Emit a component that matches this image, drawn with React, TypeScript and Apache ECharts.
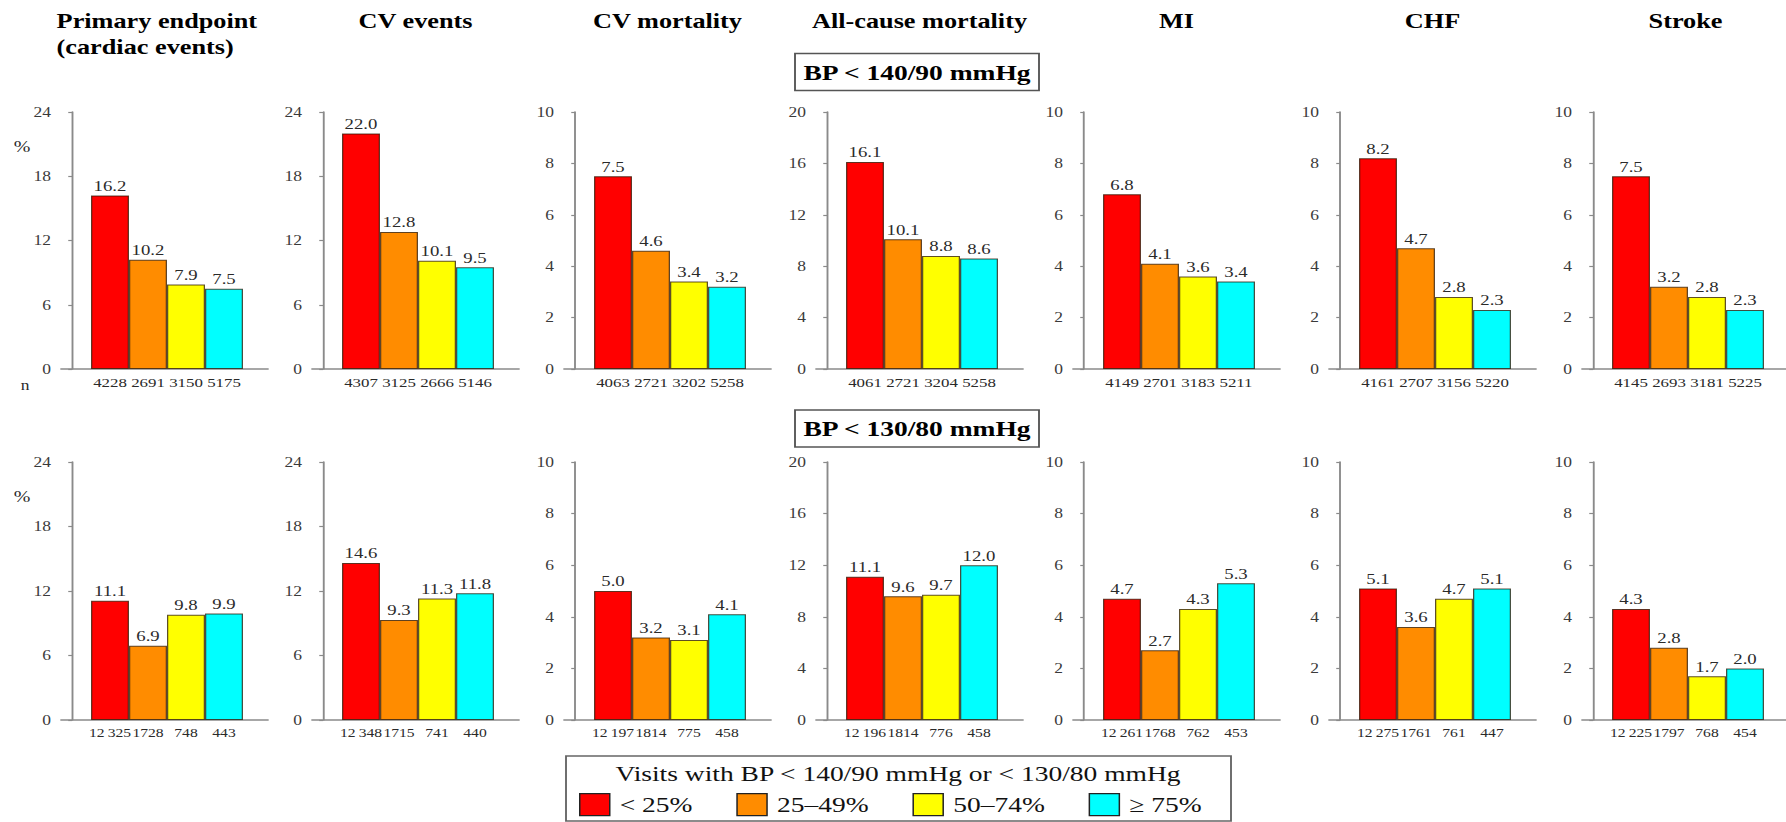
import React, { useEffect, useRef } from 'react';
import * as echarts from 'echarts';

// ---------- data ----------
const groups = ['< 25%', '25–49%', '50–74%', '≥ 75%'];
const groupColors = ['#FF0000', '#FF8C00', '#FFFF00', '#00FFFF'];
const outcomes = [
  'Primary endpoint\n(cardiac events)',
  'CV events',
  'CV mortality',
  'All-cause mortality',
  'MI',
  'CHF',
  'Stroke',
];
const yMax = [24, 24, 10, 20, 10, 10, 10];
const yStep = [6, 6, 2, 4, 2, 2, 2];
const rowTitles = ['BP < 140/90 mmHg', 'BP < 130/80 mmHg'];
const legendTitle = 'Visits with BP < 140/90 mmHg or < 130/80 mmHg';

const bp140Values = [
  [16.2, 10.2, 7.9, 7.5],
  [22.0, 12.8, 10.1, 9.5],
  [7.5, 4.6, 3.4, 3.2],
  [16.1, 10.1, 8.8, 8.6],
  [6.8, 4.1, 3.6, 3.4],
  [8.2, 4.7, 2.8, 2.3],
  [7.5, 3.2, 2.8, 2.3],
];
const bp140N = [
  ['4228', '2691', '3150', '5175'],
  ['4307', '3125', '2666', '5146'],
  ['4063', '2721', '3202', '5258'],
  ['4061', '2721', '3204', '5258'],
  ['4149', '2701', '3183', '5211'],
  ['4161', '2707', '3156', '5220'],
  ['4145', '2693', '3181', '5225'],
];
const bp130Values = [
  [11.1, 6.9, 9.8, 9.9],
  [14.6, 9.3, 11.3, 11.8],
  [5.0, 3.2, 3.1, 4.1],
  [11.1, 9.6, 9.7, 12.0],
  [4.7, 2.7, 4.3, 5.3],
  [5.1, 3.6, 4.7, 5.1],
  [4.3, 2.8, 1.7, 2.0],
];
const bp130N = [
  ['12\u2009325', '1728', '748', '443'],
  ['12\u2009348', '1715', '741', '440'],
  ['12\u2009197', '1814', '775', '458'],
  ['12\u2009196', '1814', '776', '458'],
  ['12\u2009261', '1768', '762', '453'],
  ['12\u2009275', '1761', '761', '447'],
  ['12\u2009225', '1797', '768', '454'],
];

// ---------- layout (the reference figure is stretched horizontally) ----------
const S = 1.25;
const FULL_W = 1786;
const FULL_H = 822;
const INNER_W = FULL_W / S;
const FONT = 'Liberation Serif';
const gridLeftFull = [61, 312, 564, 816, 1073, 1329, 1582];
const gridWFull = 207;
const rowTop = [112, 462];
const rowHeight = [257, 258];
const barWFull = 38;
const barLeadFull = 30;
const xMin = 1 - (barLeadFull + barWFull / 2) / barWFull;
const xMax = xMin + gridWFull / barWFull;
const AXIS_COLOR = '#8a8a8a';
const TEXT_COLOR = '#2a2a2a';

function buildOption() {
  const grids: any[] = [];
  const xAxes: any[] = [];
  const yAxes: any[] = [];
  const series: any[] = [];
  const rows = [
    { values: bp140Values, n: bp140N },
    { values: bp130Values, n: bp130N },
  ];
  rows.forEach((row, r) => {
    outcomes.forEach((_, p) => {
      const idx = r * outcomes.length + p;
      grids.push({
        left: gridLeftFull[p] / S,
        top: rowTop[r],
        width: gridWFull / S,
        height: rowHeight[r],
        containLabel: false,
        outerBoundsMode: 'none',
      });
      const nLabels = row.n[p];
      xAxes.push({
        type: 'value',
        gridIndex: idx,
        min: xMin,
        max: xMax,
        axisLine: { show: true, onZero: false, lineStyle: { color: AXIS_COLOR, width: 1.5 } },
        axisTick: { show: false },
        splitLine: { show: false },
        axisLabel: {
          customValues: [1, 2, 3, 4],
          formatter: (v: number) => nLabels[Math.round(v) - 1] ?? '',
          fontFamily: FONT,
          fontSize: r === 0 ? 13.5 : 12.5,
          color: TEXT_COLOR,
          margin: 6,
        },
      });
      yAxes.push({
        type: 'value',
        gridIndex: idx,
        min: 0,
        max: yMax[p],
        interval: yStep[p],
        axisLine: { show: true, lineStyle: { color: AXIS_COLOR, width: 1.5 } },
        axisTick: { show: true, length: 3, lineStyle: { color: AXIS_COLOR, width: 1.2 } },
        splitLine: { show: false },
        axisLabel: { fontFamily: FONT, fontSize: 14, color: '#3a3a3a', margin: 8 },
      });
      groups.forEach((g, k) => {
        series.push({
          type: 'bar',
          name: g,
          xAxisIndex: idx,
          yAxisIndex: idx,
          data: [[k + 1, row.values[p][k]]],
          barWidth: barWFull / S,
          barGap: '-100%',
          itemStyle: {
            color: groupColors[k],
            borderColor: 'rgba(40,20,0,0.75)',
            borderWidth: 1,
          },
          label: {
            show: true,
            position: 'top',
            distance: 2,
            formatter: (prm: any) => Number(prm.value[1]).toFixed(1),
            fontFamily: FONT,
            fontSize: 15,
            color: TEXT_COLOR,
          },
        });
      });
    });
  });

  const graphic: any[] = [];
  // panel titles
  outcomes.forEach((t, p) => {
    const multi = t.includes('\n');
    graphic.push({
      type: 'text',
      x: multi ? 56.6 / S : (gridLeftFull[p] + gridWFull / 2) / S,
      y: 8,
      style: {
        text: t,
        fontFamily: FONT,
        fontSize: 21,
        fontWeight: 'bold',
        lineHeight: 26,
        fill: '#000',
        align: multi ? 'left' : 'center',
        textAlign: multi ? 'left' : 'center',
        verticalAlign: 'top',
        textVerticalAlign: 'top',
      },
    });
  });
  // row boxes
  const boxY = [53.5, 410];
  rowTitles.forEach((t, r) => {
    graphic.push({
      type: 'rect',
      shape: { x: 795 / S, y: boxY[r], width: (1039 - 795) / S, height: 37 },
      style: { fill: '#fff', stroke: '#555', lineWidth: 1.5 },
    });
    graphic.push({
      type: 'text',
      x: 917 / S,
      y: boxY[r] + 18.5,
      style: {
        text: t,
        fontFamily: FONT,
        fontSize: 22,
        fontWeight: 'bold',
        fill: '#000',
        align: 'center',
        textAlign: 'center',
        verticalAlign: 'middle',
        textVerticalAlign: 'middle',
      },
    });
  });
  // % and n labels
  [146.7, 496.7].forEach((y) => {
    graphic.push({
      type: 'text',
      x: 22 / S,
      y,
      style: {
        text: '%', fontFamily: FONT, fontSize: 16, fill: TEXT_COLOR,
        align: 'center', textAlign: 'center', verticalAlign: 'middle', textVerticalAlign: 'middle',
      },
    });
  });
  graphic.push({
    type: 'text',
    x: 25 / S,
    y: 385,
    style: {
      text: 'n', fontFamily: FONT, fontSize: 14, fill: TEXT_COLOR,
      align: 'center', textAlign: 'center', verticalAlign: 'middle', textVerticalAlign: 'middle',
    },
  });
  // legend box
  graphic.push({
    type: 'rect',
    z: -1,
    shape: { x: 566 / S, y: 756, width: (1231 - 566) / S, height: 65 },
    style: { fill: '#fff', stroke: '#666', lineWidth: 1.5 },
  });
  graphic.push({
    type: 'text',
    x: 898 / S,
    y: 773,
    style: {
      text: legendTitle, fontFamily: FONT, fontSize: 22, fill: '#111',
      align: 'center', textAlign: 'center', verticalAlign: 'middle', textVerticalAlign: 'middle',
    },
  });

  return {
    animation: false,
    backgroundColor: '#fff',
    grid: grids,
    xAxis: xAxes,
    yAxis: yAxes,
    series,
    graphic,
    legend: {
      data: groups,
      left: 579 / S,
      top: 793,
      orient: 'horizontal',
      padding: 0,
      itemWidth: 24,
      itemHeight: 22,
      itemGap: 35,
      icon: 'rect',
      selectedMode: false,
      itemStyle: { borderColor: '#222', borderWidth: 1.2 },
      textStyle: { fontFamily: FONT, fontSize: 22, color: '#111', padding: [0, 0, 0, 3] },
    },
  };
}

export default function App() {
  const ref = useRef<HTMLDivElement>(null);
  useEffect(() => {
    if (!ref.current) return;
    const chart = echarts.init(ref.current, null, { renderer: 'svg' });
    chart.setOption(buildOption() as any);
    return () => chart.dispose();
  }, []);
  return (
    <div
      ref={ref}
      style={{
        position: 'absolute',
        left: 0,
        top: 0,
        width: INNER_W,
        height: FULL_H,
        transform: `scaleX(${S})`,
        transformOrigin: '0 0',
        background: '#fff',
      }}
    />
  );
}
